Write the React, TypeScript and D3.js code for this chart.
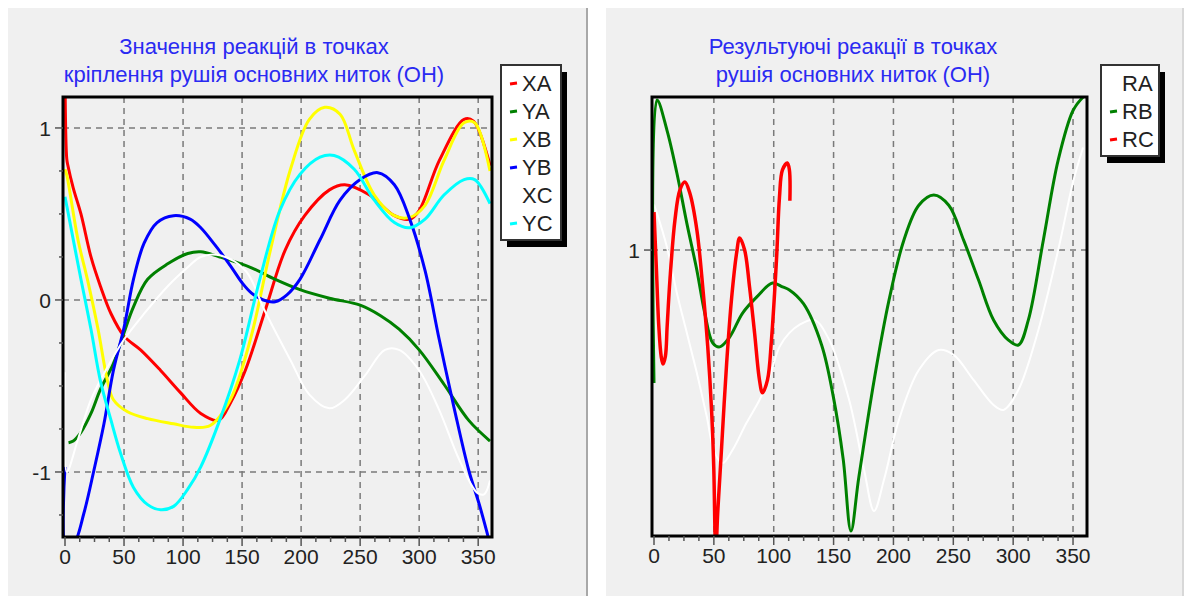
import * as d3 from "d3";
import React from "react";

type Pt = [number, number];

// tick labels
const xTicks = [0, 50, 100, 150, 200, 250, 300, 350];
const leftYTicks = [-1, 0, 1];
const rightYTicks = [1];

// left chart series (angle, value)
const XA: Pt[] = [[0, 1.3], [1.5, 0.82], [2.5, 0.78], [7, 0.65], [13.5, 0.5], [22, 0.25], [30, 0.08], [39, -0.08], [50, -0.21], [64, -0.29], [81, -0.41], [98, -0.54], [115, -0.66], [130, -0.7], [140, -0.6], [152.7, -0.41], [169.6, -0.06], [186.5, 0.29], [203, 0.49], [224, 0.64], [237, 0.67], [258, 0.61], [279, 0.49], [292, 0.47], [300, 0.52], [317, 0.81], [338, 1.05], [346, 1.04], [359, 0.81], [360, 0.78]];
const YA: Pt[] = [[3, -0.83], [7, -0.82], [13.5, -0.77], [22, -0.66], [30, -0.52], [41, -0.37], [50, -0.19], [58, -0.04], [70, 0.12], [87, 0.21], [104, 0.27], [115, 0.28], [131, 0.25], [157, 0.19], [178, 0.12], [199, 0.06], [224, 0.01], [250, -0.03], [267, -0.09], [283, -0.17], [300, -0.29], [321, -0.49], [342, -0.7], [360, -0.82]];
const XB: Pt[] = [[0, 0.76], [1.7, 0.72], [11, 0.35], [19, 0.12], [28, -0.17], [36, -0.47], [41, -0.58], [53, -0.65], [70, -0.69], [92, -0.72], [109, -0.74], [123, -0.73], [140, -0.58], [157, -0.23], [174, 0.29], [191, 0.76], [207, 1.05], [220, 1.12], [233, 1.08], [245, 0.87], [262, 0.61], [279, 0.49], [292, 0.48], [305, 0.55], [321, 0.81], [338, 1.03], [347, 1.03], [360, 0.75]];
const YB: Pt[] = [[0, -0.97], [1, -1.45], [7.6, -1.42], [16, -1.24], [24.5, -0.99], [33, -0.72], [41, -0.41], [50, -0.16], [58, 0.12], [67, 0.33], [78, 0.45], [92, 0.49], [106, 0.47], [115, 0.42], [127, 0.32], [140, 0.2], [150, 0.1], [158, 0.04], [168, 0.0], [178, -0.01], [188, 0.03], [199, 0.12], [216, 0.35], [233, 0.58], [250, 0.7], [265, 0.74], [279, 0.67], [292, 0.47], [305, 0.17], [317, -0.23], [330, -0.64], [342, -0.99], [351, -1.19], [357, -1.34], [360, -1.42]];
const XC: Pt[] = [[0, -0.42], [1.5, -1.0], [11, -0.81], [22, -0.58], [36, -0.39], [50, -0.23], [67, -0.08], [87, 0.08], [104, 0.19], [115, 0.25], [131, 0.26], [153, 0.17], [169, -0.06], [191, -0.35], [207, -0.55], [224, -0.63], [237, -0.58], [254, -0.44], [271, -0.29], [283, -0.29], [300, -0.41], [317, -0.64], [334, -0.93], [349, -1.12], [355, -1.13], [360, -1.05]];
const YC: Pt[] = [[0, 0.6], [1.7, 0.54], [13.5, 0.12], [22, -0.17], [30, -0.47], [39, -0.7], [47, -0.89], [58, -1.09], [70, -1.19], [81, -1.22], [92, -1.2], [104, -1.1], [115, -0.97], [131, -0.7], [148, -0.35], [165, 0.12], [182, 0.52], [199, 0.73], [216, 0.83], [228, 0.84], [245, 0.76], [262, 0.58], [279, 0.45], [292, 0.42], [305, 0.47], [321, 0.61], [338, 0.7], [347, 0.7], [360, 0.56]];

// right chart series
const RA: Pt[] = [[0, 1.12], [2.5, 1.097], [10.8, 1.008], [19.1, 0.887], [27.4, 0.782], [35.8, 0.676], [44.1, 0.561], [50.7, 0.466], [57.4, 0.439], [65.7, 0.474], [77.3, 0.545], [88.1, 0.605], [96.5, 0.666], [104.8, 0.745], [113.1, 0.782], [121.4, 0.803], [133.9, 0.816], [146.4, 0.763], [163, 0.605], [175.5, 0.421], [183.8, 0.313], [192.1, 0.395], [204.6, 0.553], [221.2, 0.684], [237.8, 0.737], [250.3, 0.724], [266.9, 0.658], [283.6, 0.592], [291.9, 0.579], [304.4, 0.632], [321, 0.789], [337.6, 1.0], [350.1, 1.18], [358.4, 1.27]];
const RB: Pt[] = [[0, 0.65], [2.5, 1.395], [10.8, 1.316], [19.1, 1.203], [27.4, 1.071], [35.8, 0.947], [42.4, 0.834], [49.1, 0.755], [54.9, 0.745], [63.2, 0.771], [74, 0.834], [85.7, 0.876], [99, 0.913], [107.3, 0.903], [113.1, 0.895], [125, 0.858], [140, 0.75], [150, 0.61], [158, 0.45], [164.5, 0.26], [171, 0.4], [184, 0.66], [196.3, 0.868], [208.7, 1.026], [221.2, 1.118], [233.7, 1.145], [246.2, 1.118], [258.6, 1.026], [271.1, 0.921], [283.6, 0.816], [296, 0.763], [304.4, 0.75], [312.7, 0.816], [325.2, 1.026], [337.6, 1.237], [350.1, 1.368], [358.4, 1.403]];
const RC: Pt[] = [[0, 1.1], [2, 0.95], [4, 0.8], [6, 0.72], [7.5, 0.7], [9.5, 0.72], [11, 0.8], [13.3, 0.921], [17.5, 1.079], [21.6, 1.158], [25.8, 1.179], [29.9, 1.15], [35.8, 1.053], [40.7, 0.903], [44.9, 0.745], [48.2, 0.571], [49.9, 0.429], [51.6, 0.2], [53.2, 0.308], [56.5, 0.482], [60.7, 0.703], [64.9, 0.876], [69, 0.992], [71.5, 1.032], [75.7, 1.0], [79.8, 0.903], [84, 0.782], [88.1, 0.658], [90.6, 0.624], [94.8, 0.658], [98.1, 0.763], [102.3, 0.974], [104.8, 1.139], [107.3, 1.211], [111.4, 1.229], [113.1, 1.211], [113.5, 1.13]];

const leftNames = ["XA", "YA", "XB", "YB", "XC", "YC"];
const leftData = [XA, YA, XB, YB, XC, YC];
const leftColors = ["#ff0000", "#008000", "#ffff00", "#0000ff", "#ffffff", "#00ffff"];
const leftWidths = [3, 3, 3, 3, 2, 3];

const rightNames = ["RA", "RB", "RC"];
const rightData = [RA, RB, RC];
const rightColors = ["#ffffff", "#008000", "#ff0000"];
const rightWidths = [2, 3, 3.5];

const FONT = "'Liberation Sans', Arial, sans-serif";

interface PanelProps {
  id: string;
  panel: [number, number];
  frame: { x0: number; x1: number; y0: number; y1: number };
  xRange: [number, number];
  yDomain: [number, number];
  yTicks: number[];
  yMinor: number;
  names: string[];
  data: Pt[][];
  colors: string[];
  widths: number[];
  title: string[];
  titleX: number;
  legend: { x: number; y: number; w: number };
  borderColor: string;
}

function Panel(p: PanelProps) {
  const { frame } = p;
  const x = d3.scaleLinear().domain([0, 360]).range(p.xRange);
  const y = d3.scaleLinear().domain(p.yDomain).range([frame.y1, frame.y0]);
  const line = d3
    .line<Pt>()
    .x((d) => x(d[0]))
    .y((d) => y(d[1]))
    .curve(d3.curveCatmullRom.alpha(0.5));

  const xMinor = d3.range(0, 361, 12.5).filter((v) => v % 50 !== 0);
  const yMinor = p.yMinor
    ? d3.range(Math.ceil(p.yDomain[0] / p.yMinor) * p.yMinor, p.yDomain[1], p.yMinor).filter((v) => Math.abs(v - Math.round(v)) > 1e-6)
    : [];
  const rowH = 28;
  const legendH = p.names.length * rowH + 7;

  return (
    <g>
      <rect x={p.panel[0]} y={8} width={p.panel[1] - p.panel[0]} height={588} fill="#f0f0f0" />
      <line x1={p.panel[1] - 1} x2={p.panel[1] - 1} y1={8} y2={596} stroke={p.borderColor} strokeWidth={2} />

      {p.title.map((t, i) => (
        <text key={i} x={p.titleX} y={54 + i * 28} textAnchor="middle" fontFamily={FONT} fontSize={22} fill="#2a2af2">
          {t}
        </text>
      ))}

      <clipPath id={`clip-${p.id}`}>
        <rect x={frame.x0} y={frame.y0} width={frame.x1 - frame.x0} height={frame.y1 - frame.y0} />
      </clipPath>

      {/* grid */}
      <g stroke="#7a7a7a" strokeWidth={1.5} strokeDasharray="6,5">
        {xTicks.filter((v) => v > 0).map((v) => (
          <line key={v} x1={x(v)} x2={x(v)} y1={frame.y0} y2={frame.y1} />
        ))}
        {p.yTicks.map((v) => (
          <line key={v} x1={frame.x0} x2={frame.x1} y1={y(v)} y2={y(v)} />
        ))}
      </g>

      {/* series */}
      <g clipPath={`url(#clip-${p.id})`}>
        {p.data.map((d, i) => (
          <path key={p.names[i]} d={line(d) || ""} fill="none" stroke={p.colors[i]} strokeWidth={p.widths[i]} strokeLinejoin="round" />
        ))}
      </g>

      {/* frame */}
      <rect x={frame.x0} y={frame.y0} width={frame.x1 - frame.x0} height={frame.y1 - frame.y0} fill="none" stroke="#000" strokeWidth={3} />

      {/* ticks */}
      <g stroke="#555" strokeWidth={1.5}>
        {xTicks.map((v) => (
          <line key={v} x1={x(v)} x2={x(v)} y1={frame.y1} y2={frame.y1 + 9} />
        ))}
        {xMinor.map((v) => (
          <line key={v} x1={x(v)} x2={x(v)} y1={frame.y1} y2={frame.y1 + 5} />
        ))}
        {p.yTicks.map((v) => (
          <line key={v} x1={frame.x0 - 8} x2={frame.x0} y1={y(v)} y2={y(v)} />
        ))}
        {yMinor.map((v) => (
          <line key={v} x1={frame.x0 - 4} x2={frame.x0} y1={y(v)} y2={y(v)} />
        ))}
      </g>
      <g fontFamily={FONT} fontSize={21} fill="#222">
        {xTicks.map((v) => (
          <text key={v} x={x(v)} y={frame.y1 + 27} textAnchor="middle">
            {v}
          </text>
        ))}
        {p.yTicks.map((v) => (
          <text key={v} x={frame.x0 - 12} y={y(v) + 8} textAnchor="end">
            {v}
          </text>
        ))}
      </g>

      {/* legend */}
      <rect x={p.legend.x + 6} y={p.legend.y + 7} width={p.legend.w} height={legendH} fill="#000" />
      <rect x={p.legend.x} y={p.legend.y} width={p.legend.w} height={legendH} fill="#fff" stroke="#333" strokeWidth={2} />
      {p.names.map((n, i) => {
        const cy = p.legend.y + 18 + i * rowH;
        return (
          <g key={n}>
            <line x1={p.legend.x + 9} x2={p.legend.x + 16} y1={cy + 1} y2={cy} stroke={p.colors[i]} strokeWidth={3} />
            <text x={p.legend.x + 21} y={cy + 8} fontFamily={FONT} fontSize={22} fill="#222">
              {n}
            </text>
          </g>
        );
      })}
    </g>
  );
}

export default function App() {
  return (
    <div style={{ position: "absolute", left: 0, top: 0 }}>
      <svg width={1184} height={596} style={{ display: "block", background: "#fff" }}>
        <Panel
          id="left"
          panel={[8, 588]}
          frame={{ x0: 63, x1: 492, y0: 97, y1: 537 }}
          xRange={[65, 490]}
          yDomain={[-1.378, 1.18]}
          yTicks={leftYTicks}
          yMinor={0.25}
          names={leftNames}
          data={leftData}
          colors={leftColors}
          widths={leftWidths}
          title={["Значення реакцій в точках", "кріплення рушія основних ниток (ОН)"]}
          titleX={254}
          legend={{ x: 501, y: 65, w: 60 }}
          borderColor="#a8a8a8"
        />
        <Panel
          id="right"
          panel={[606, 1184]}
          frame={{ x0: 652, x1: 1087, y0: 97, y1: 536 }}
          xRange={[654, 1085]}
          yDomain={[0.247, 1.403]}
          yTicks={rightYTicks}
          yMinor={0}
          names={rightNames}
          data={rightData}
          colors={rightColors}
          widths={rightWidths}
          title={["Результуючі реакції в точках", "рушія основних ниток (ОН)"]}
          titleX={853}
          legend={{ x: 1101, y: 65, w: 58 }}
          borderColor="#d8d8d8"
        />
      </svg>
    </div>
  );
}
